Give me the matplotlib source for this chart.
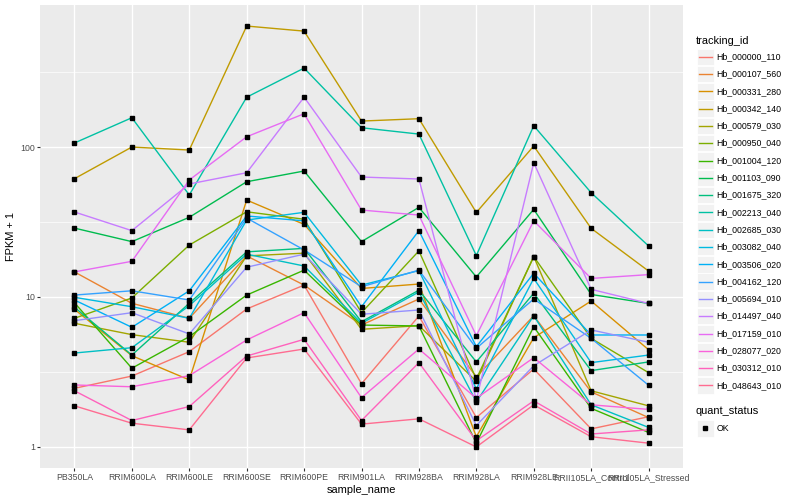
import numpy as np
import matplotlib
matplotlib.use("Agg")
import matplotlib.pyplot as plt
from matplotlib.patches import Rectangle
from matplotlib.lines import Line2D

plt.rcParams['font.family'] = ['Liberation Sans', 'DejaVu Sans']

samples = ["PB350LA", "RRIM600LA", "RRIM600LE", "RRIM600SE", "RRIM600PE",
           "RRIM901LA", "RRIM928BA", "RRIM928LA", "RRIM928LE",
           "RRII105LA_Control", "RRII105LA_Stressed"]

tracking_ids = ["Hb_000000_110", "Hb_000107_560", "Hb_000331_280", "Hb_000342_140",
                "Hb_000579_030", "Hb_000950_040", "Hb_001004_120", "Hb_001103_090",
                "Hb_001675_320", "Hb_002213_040", "Hb_002685_030", "Hb_003082_040",
                "Hb_003506_020", "Hb_004162_120", "Hb_005694_010", "Hb_014497_040",
                "Hb_017159_010", "Hb_028077_020", "Hb_030312_010", "Hb_048643_010"]

# ggplot default hue palette for 20 levels
colors = ["#F8766D", "#EA8331", "#D89000", "#C09B00", "#A3A500", "#7CAE00",
          "#39B600", "#00BB4E", "#00BF7D", "#00C1A3", "#00BFC4", "#00BAE0",
          "#00B0F6", "#35A2FF", "#9590FF", "#C77CFF", "#E76BF3", "#FA62DB",
          "#FF62BC", "#FF6C91"]

# FPKM + 1, one value per sample
hb_000000_110 = [2.46, 2.97, 4.32, 8.32, 12.0, 2.64, 7.47, 1.57, 3.31, 1.32, 1.59]
hb_000107_560 = [14.7, 9.08, 7.21, 18.8, 12.0, 6.50, 9.7, 2.93, 7.5, 2.33, 1.57]
hb_000331_280 = [8.28, 4.06, 2.80, 44.3, 30.5, 11.4, 12.2, 1.17, 5.35, 9.4, 4.45]
hb_000342_140 = [61.5, 100.0, 95.5, 641.0, 593.0, 149.0, 154.5, 36.6, 101.6, 28.7, 14.9]
hb_000579_030 = [6.68, 5.61, 4.99, 18.8, 19.6, 6.09, 6.44, 2.74, 18.6, 2.37, 1.88]
hb_000950_040 = [7.21, 9.85, 22.2, 37.0, 33.0, 7.86, 20.3, 2.84, 18.6, 5.3, 3.13]
hb_001004_120 = [9.16, 3.35, 5.44, 10.3, 15.1, 6.50, 6.41, 1.06, 6.34, 1.81, 1.25]
hb_001103_090 = [28.8, 23.4, 34.0, 58.7, 69.2, 23.4, 39.6, 13.6, 38.4, 10.4, 9.06]
hb_001675_320 = [8.54, 4.10, 9.08, 20.0, 21.1, 6.84, 11.1, 3.69, 10.6, 3.23, 3.69]
hb_002213_040 = [106.4, 156.8, 47.9, 215.0, 336.0, 134.5, 122.0, 18.9, 138.7, 49.6, 21.9]
hb_002685_030 = [4.23, 4.59, 8.75, 19.3, 16.1, 6.68, 10.8, 2.00, 7.5, 1.91, 1.35]
hb_003082_040 = [9.95, 8.61, 7.21, 32.6, 36.7, 12.0, 15.0, 2.44, 13.3, 3.65, 4.10]
hb_003506_020 = [9.55, 6.28, 11.0, 34.7, 32.2, 8.61, 27.7, 4.66, 14.4, 5.58, 5.58]
hb_004162_120 = [10.3, 11.0, 9.55, 33.6, 20.6, 11.7, 15.1, 4.55, 9.7, 5.3, 2.58]
hb_005694_010 = [6.95, 7.86, 5.67, 15.8, 19.3, 7.67, 8.19, 1.39, 3.48, 6.03, 4.99]
hb_014497_040 = [36.9, 27.7, 56.7, 67.4, 215.0, 63.1, 61.2, 2.06, 78.6, 11.25, 9.06]
hb_017159_010 = [14.7, 17.3, 60.3, 117.1, 166.7, 38.0, 35.2, 5.52, 32.2, 13.3, 14.1]
hb_028077_020 = [2.59, 2.52, 2.99, 5.17, 7.86, 2.13, 4.50, 2.11, 3.94, 1.91, 1.78]
hb_030312_010 = [2.37, 1.50, 1.86, 4.04, 5.22, 1.50, 3.65, 1.10, 2.03, 1.22, 1.30]
hb_048643_010 = [1.88, 1.44, 1.30, 3.92, 4.50, 1.42, 1.54, 1.00, 1.91, 1.17, 1.06]

series = [hb_000000_110, hb_000107_560, hb_000331_280, hb_000342_140, hb_000579_030,
          hb_000950_040, hb_001004_120, hb_001103_090, hb_001675_320, hb_002213_040,
          hb_002685_030, hb_003082_040, hb_003506_020, hb_004162_120, hb_005694_010,
          hb_014497_040, hb_017159_010, hb_028077_020, hb_030312_010, hb_048643_010]

W, H = 800, 500
fig = plt.figure(figsize=(8, 5), dpi=100)
ax = fig.add_axes([40 / W, 1 - 468 / H, 643 / W, 463 / H])
ax.set_facecolor("#EBEBEB")

x = np.arange(len(samples))
for vals, col in zip(series, colors):
    ax.plot(x, vals, color=col, lw=1.0, zorder=3)
for vals in series:
    ax.plot(x, vals, ls="none", marker="s", ms=2.4, color="black", zorder=4)

ax.set_yscale("log")
allv = np.log10(np.concatenate([np.asarray(s) for s in series]))
lo, hi = allv.min(), allv.max()
pad = (hi - lo) * 0.05
ax.set_ylim(10 ** (lo - pad), 10 ** (hi + pad))
ax.set_xlim(-0.6, len(samples) - 0.4)

ax.set_yticks([1, 10, 100])
ax.set_yticklabels(["1", "10", "100"])
ax.set_yticks([10 ** 0.5, 10 ** 1.5, 10 ** 2.5], minor=True)
ax.yaxis.set_minor_formatter(matplotlib.ticker.NullFormatter())
ax.set_xticks(x)
ax.set_xticklabels(samples)

ax.grid(which="major", color="white", lw=1.0, zorder=0)
ax.grid(which="minor", axis="y", color="white", lw=0.5, zorder=0)
ax.set_axisbelow(True)
for s in ax.spines.values():
    s.set_visible(False)
ax.tick_params(which="major", length=2.0, width=0.8, color="#333333",
               labelcolor="#4D4D4D", labelsize=6.3, pad=1.5)
ax.tick_params(which="minor", length=0)

ax.set_xlabel("sample_name", fontsize=7.9, labelpad=2)
ax.set_ylabel("FPKM + 1", fontsize=7.9, labelpad=3)

# legend, drawn in pixel coordinates of the figure
lg = fig.add_axes([0, 0, 1, 1])
lg.set_xlim(0, W)
lg.set_ylim(H, 0)
lg.axis("off")
lg.patch.set_alpha(0)

lg.text(696, 40.5, "tracking_id", fontsize=7.9, va="center", ha="left")
row0, step = 56.7, 17.3
for i, (name, col) in enumerate(zip(tracking_ids, colors)):
    yc = row0 + i * step
    lg.add_patch(Rectangle((697, yc - 8.2), 16.5, 16.4, facecolor="#F2F2F2",
                           edgecolor="white", lw=0.6))
    lg.add_line(Line2D([698.5, 711.5], [yc, yc], color=col, lw=1.0))
    lg.text(716.5, yc, name, fontsize=6.3, va="center", ha="left")

lg.text(696, 411.5, "quant_status", fontsize=7.9, va="center", ha="left")
lg.add_patch(Rectangle((697, 428.3 - 8.2), 16.5, 16.4, facecolor="#F2F2F2",
                       edgecolor="white", lw=0.6))
lg.plot([705.2], [428.3], marker="s", ms=2.4, color="black")
lg.text(716.5, 428.3, "OK", fontsize=6.3, va="center", ha="left")

fig.savefig("out.png", dpi=100)
